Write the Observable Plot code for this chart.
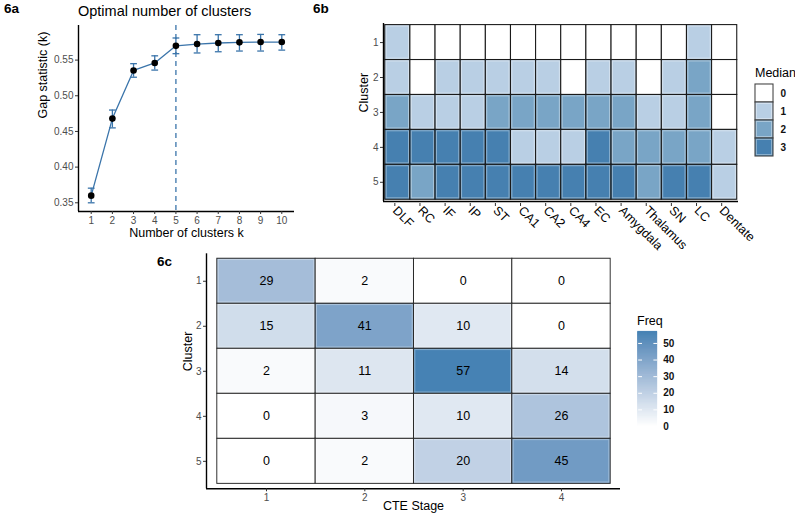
<!DOCTYPE html>
<html><head><meta charset="utf-8">
<script src="https://cdn.jsdelivr.net/npm/d3@7"></script>
<script src="https://cdn.jsdelivr.net/npm/@observablehq/plot@0.6"></script>
<style>
body{margin:0;background:#fff;font-family:"Liberation Sans",Arial,sans-serif;}
#root{position:relative;width:795px;height:519px;overflow:hidden;background:#fff;}
.abs{position:absolute;line-height:1;white-space:nowrap;}
.panel{font-weight:bold;font-size:13.5px;color:#000;}
.ttl{font-size:14.5px;color:#000;}
.lt{font-size:12.5px;color:#000;}
svg{overflow:visible;}
</style></head><body><div id="root"></div>
<script>
// ---------- data ----------
const kValues = [1, 2, 3, 4, 5, 6, 7, 8, 9, 10];
const gapValues = [0.360, 0.468, 0.5355, 0.546, 0.570, 0.5725, 0.574, 0.5749, 0.5753, 0.5753];
const gapLower = [0.350, 0.455, 0.526, 0.536, 0.559, 0.560, 0.5617, 0.5627, 0.5627, 0.564];
const gapUpper = [0.3705, 0.480, 0.545, 0.556, 0.581, 0.5856, 0.5856, 0.5856, 0.586, 0.5856];
const optimalK = 5;
const gapTicks = [0.35, 0.40, 0.45, 0.50, 0.55];

const regions = ["DLF", "RC", "IF", "IP", "ST", "CA1", "CA2", "CA4", "EC", "Amygdala", "Thalamus", "SN", "LC", "Dentate"];
const clusters = [1, 2, 3, 4, 5];
const medianCluster1 = [1, 0, 0, 0, 0, 0, 0, 0, 0, 0, 0, 0, 1, 0];
const medianCluster2 = [1, 0, 1, 1, 1, 1, 1, 0, 1, 1, 0, 1, 2, 0];
const medianCluster3 = [2, 1, 1, 1, 2, 2, 2, 2, 2, 2, 1, 1, 2, 0];
const medianCluster4 = [3, 3, 3, 3, 3, 1, 1, 1, 3, 2, 2, 2, 2, 1];
const medianCluster5 = [3, 2, 3, 3, 3, 3, 3, 3, 3, 3, 2, 3, 3, 1];
const medianLevels = [0, 1, 2, 3];

const cteStages = [1, 2, 3, 4];
const freqCluster1 = [29, 2, 0, 0];
const freqCluster2 = [15, 41, 10, 0];
const freqCluster3 = [2, 11, 57, 14];
const freqCluster4 = [0, 3, 10, 26];
const freqCluster5 = [0, 2, 20, 45];
const freqTicks = [0, 10, 20, 30, 40, 50];

// ---------- style ----------
const FONT = '"Liberation Sans", Arial, sans-serif';
const BLUE = "#3a74aa";
const MED_COLORS = ["#ffffff", "#b9cfe4", "#79a5c6", "#4680b0"];
const FREQ_MAX = 57;
const freqColor = {type: "linear", domain: [0, FREQ_MAX], range: ["white", "steelblue"], interpolate: "lab"};
const medColor = {type: "ordinal", domain: medianLevels, range: MED_COLORS};
const intFmt = d3.format("d");

const root = document.getElementById("root");
function place(node, left, top) {
  node.style.position = "absolute";
  node.style.left = left + "px";
  node.style.top = top + "px";
  root.appendChild(node);
}
function label(text, cls, left, top, extra) {
  const d = document.createElement("div");
  d.className = "abs " + cls;
  d.textContent = text;
  d.style.left = left + "px";
  d.style.top = top + "px";
  if (extra) Object.assign(d.style, extra);
  root.appendChild(d);
}

// ---------- 6a ----------
const gapData = kValues.map((k, i) => ({k, gap: gapValues[i], lo: gapLower[i], hi: gapUpper[i]}));
const xDomA = [0.4, 10.6], yDomA = [0.3378, 0.5985];
const capW = 0.16;
const pA = Plot.plot({
  width: 300, height: 245, marginLeft: 78, marginRight: 6, marginTop: 25, marginBottom: 34,
  x: {domain: xDomA}, y: {domain: yDomA},
  style: {fontFamily: FONT, fontSize: "10px", color: "#4d4d4d", background: "transparent"},
  marks: [
    Plot.ruleX([optimalK], {stroke: BLUE, strokeDasharray: "5,4", strokeWidth: 1.3}),
    Plot.ruleX(gapData, {x: "k", y1: "lo", y2: "hi", stroke: BLUE, strokeWidth: 1.3}),
    Plot.link(gapData, {x1: d => d.k - capW, x2: d => d.k + capW, y1: "lo", y2: "lo", stroke: BLUE, strokeWidth: 1.3}),
    Plot.link(gapData, {x1: d => d.k - capW, x2: d => d.k + capW, y1: "hi", y2: "hi", stroke: BLUE, strokeWidth: 1.3}),
    Plot.line(gapData, {x: "k", y: "gap", stroke: BLUE, strokeWidth: 1.3}),
    Plot.dot(gapData, {x: "k", y: "gap", r: 3.3, fill: "black"}),
    Plot.ruleX([xDomA[0]], {stroke: "black", strokeWidth: 1.4}),
    Plot.ruleY([yDomA[0]], {stroke: "black", strokeWidth: 1.4}),
    Plot.axisX({ticks: kValues, tickSize: 3, tickPadding: 2, label: null, stroke: "#333"}),
    Plot.axisY({ticks: gapTicks, tickFormat: d3.format(".2f"), tickSize: 3, tickPadding: 2, label: null, stroke: "#333"}),
    Plot.text(["Number of clusters k"], {frameAnchor: "bottom", dy: 25, fontSize: 12.5, fill: "black"}),
    Plot.text(["Gap statistic (k)"], {frameAnchor: "left", dx: -36, rotate: -90, fontSize: 12.5, fill: "black"})
  ]
});
place(pA, 0, 0);
label("6a", "panel", 4, 2);
label("Optimal number of clusters", "ttl", 78, 4);

// ---------- 6b ----------
const medianRows = [medianCluster1, medianCluster2, medianCluster3, medianCluster4, medianCluster5];
const medData = [];
clusters.forEach((c, ci) => regions.forEach((r, ri) => medData.push({c, ri, region: r, v: medianRows[ci][ri]})));
const xDomB = [-0.07, 14.05], yDomB = [0.454, 5.55];
const pB = Plot.plot({
  width: 480, height: 262, marginLeft: 83, marginRight: 42, marginTop: 23, marginBottom: 61,
  x: {domain: xDomB}, y: {domain: yDomB, reverse: true},
  color: medColor,
  style: {fontFamily: FONT, fontSize: "10px", color: "#4d4d4d", background: "transparent"},
  marks: [
    Plot.rect(medData, {x1: "ri", x2: d => d.ri + 1, y1: d => d.c - 0.5, y2: d => d.c + 0.5, fill: "v", stroke: "#1a1a1a", strokeWidth: 1.1}),
    Plot.rect(medData, {x1: "ri", x2: d => d.ri + 1, y1: d => d.c - 0.5, y2: d => d.c + 0.5, inset: 1.4, fill: "none", stroke: "white", strokeOpacity: 0.4, strokeWidth: 1}),
    Plot.ruleX([xDomB[0]], {stroke: "black", strokeWidth: 1.4}),
    Plot.ruleY([yDomB[1]], {stroke: "black", strokeWidth: 1.4}),
    Plot.axisX({ticks: regions.map((r, i) => i + 0.5), tickFormat: d => regions[Math.round(d - 0.5)], tickRotate: 45, textAnchor: "start", tickSize: 3, tickPadding: 2, dx: -3, dy: 2, fontSize: 12.5, fill: "black", stroke: "#333", label: null}),
    Plot.axisY({ticks: clusters, tickFormat: intFmt, tickSize: 3, tickPadding: 2, stroke: "#333", label: null}),
    Plot.text(["Cluster"], {frameAnchor: "left", dx: -20, rotate: -90, fontSize: 12.5, fill: "black"})
  ]
});
place(pB, 300, 0);
label("6b", "panel", 313, 2);

// Median legend
const pBL = Plot.plot({
  width: 48, height: 80, marginLeft: 5, marginRight: 25, marginTop: 3, marginBottom: 3,
  x: {type: "band", domain: ["Median"], padding: 0, axis: null},
  y: {type: "band", domain: medianLevels, padding: 0},
  color: medColor,
  style: {fontFamily: FONT, fontSize: "10px", color: "#111", background: "transparent"},
  marks: [
    Plot.cell(medianLevels, {x: () => "Median", y: d => d, fill: d => d, stroke: "#444", strokeWidth: 1.1}),
    Plot.cell(medianLevels, {x: () => "Median", y: d => d, inset: 1.4, fill: "none", stroke: "white", strokeOpacity: 0.4}),
    Plot.axisY({anchor: "right", tickSize: 0, tickPadding: 7, fontWeight: "bold", label: null})
  ]
});
place(pBL, 750, 80);
label("Median", "lt", 755, 67);

// ---------- 6c ----------
const freqRows = [freqCluster1, freqCluster2, freqCluster3, freqCluster4, freqCluster5];
const freqData = [];
clusters.forEach((c, ci) => cteStages.forEach((s, si) => freqData.push({c, s, f: freqRows[ci][si]})));
const xDomC = [0.39, 4.6], yDomC = [0.39, 5.61];
const pC = Plot.plot({
  width: 480, height: 274, marginLeft: 56, marginRight: 10, marginTop: 8.3, marginBottom: 30.7,
  x: {domain: xDomC}, y: {domain: yDomC, reverse: true},
  color: freqColor,
  style: {fontFamily: FONT, fontSize: "10px", color: "#4d4d4d", background: "transparent"},
  marks: [
    Plot.rect(freqData, {x1: d => d.s - 0.5, x2: d => d.s + 0.5, y1: d => d.c - 0.5, y2: d => d.c + 0.5, fill: "f", stroke: "#2a2a2a", strokeWidth: 1}),
    Plot.rect(freqData, {x1: d => d.s - 0.5, x2: d => d.s + 0.5, y1: d => d.c - 0.5, y2: d => d.c + 0.5, inset: 1.3, fill: "none", stroke: "white", strokeOpacity: 0.35}),
    Plot.text(freqData, {x: "s", y: "c", text: d => String(d.f), fontSize: 12.5, fill: "black"}),
    Plot.ruleX([xDomC[0]], {stroke: "black", strokeWidth: 1.4}),
    Plot.ruleY([yDomC[1]], {stroke: "black", strokeWidth: 1.4}),
    Plot.axisX({ticks: cteStages, tickFormat: intFmt, tickSize: 3, tickPadding: 2, stroke: "#333", label: null}),
    Plot.axisY({ticks: clusters, tickFormat: intFmt, tickSize: 3, tickPadding: 2, stroke: "#333", label: null}),
    Plot.text(["CTE Stage"], {frameAnchor: "bottom", dy: 21, fontSize: 12.5, fill: "black"}),
    Plot.text(["Cluster"], {frameAnchor: "left", dx: -19, rotate: -90, fontSize: 12.5, fill: "black"})
  ]
});
place(pC, 150, 245);
label("6c", "panel", 157, 255);

// Freq legend (colour bar)
const gradStep = 0.5;
const gradSteps = d3.range(0, FREQ_MAX, gradStep);
const pCL = Plot.plot({
  width: 60, height: 110, marginLeft: 7.7, marginRight: 33.3, marginTop: 6.3, marginBottom: 9,
  x: {domain: [0, 1], axis: null}, y: {domain: [0, FREQ_MAX]},
  color: freqColor,
  style: {fontFamily: FONT, fontSize: "10px", color: "#111", background: "transparent"},
  marks: [
    Plot.rect(gradSteps, {x1: () => 0, x2: () => 1, y1: d => d, y2: d => Math.min(FREQ_MAX, d + gradStep), fill: d => d + gradStep / 2, stroke: d => d + gradStep / 2, strokeWidth: 0.8}),
    Plot.link(freqTicks, {x1: () => 0, x2: () => 0.2, y1: d => d, y2: d => d, stroke: "white", strokeWidth: 1}),
    Plot.link(freqTicks, {x1: () => 0.8, x2: () => 1, y1: d => d, y2: d => d, stroke: "white", strokeWidth: 1}),
    Plot.axisY({anchor: "right", ticks: freqTicks, tickSize: 0, tickPadding: 6, fontWeight: "bold", label: null})
  ]
});
place(pCL, 630, 325);
label("Freq", "lt", 637, 315);
</script></body></html>
